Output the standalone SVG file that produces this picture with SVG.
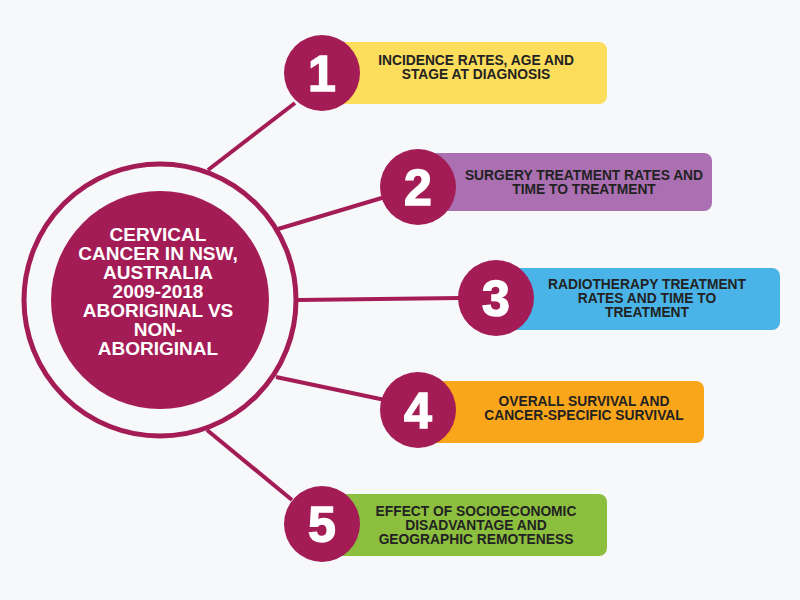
<svg xmlns="http://www.w3.org/2000/svg" width="800" height="600" viewBox="0 0 800 600">
<style>
.n{fill:#A41C56}
.num{font-family:"Liberation Sans",Arial,sans-serif;font-weight:bold;font-size:50px;fill:#fff;text-anchor:middle;stroke:#fff;stroke-width:1.5}
.lab{font-family:"Liberation Sans",Arial,sans-serif;font-weight:bold;font-size:13.8px;fill:#222;text-anchor:middle}
.c{stroke:#A41C56;stroke-width:4;fill:none}
</style>
<rect width="800" height="600" fill="#F7F8FA"/>
<g id="connectors">
<line class="c" x1="208" y1="170" x2="295" y2="103"/>
<line class="c" x1="278" y1="229" x2="385" y2="197"/>
<line class="c" x1="298" y1="300" x2="460" y2="298"/>
<line class="c" x1="276" y1="377" x2="385" y2="400"/>
<line class="c" x1="207" y1="430" x2="292" y2="500"/>
</g>
<g id="center">
<circle cx="160" cy="300" r="136" fill="none" stroke="#A41C56" stroke-width="5"/>
<circle class="n" cx="160" cy="300" r="109"/>
<text font-family="Liberation Sans,Arial,sans-serif" font-weight="bold" font-size="19" fill="#fff" text-anchor="middle">
<tspan x="158" y="241">CERVICAL</tspan><tspan x="158" y="260">CANCER IN NSW,</tspan><tspan x="158" y="279">AUSTRALIA</tspan><tspan x="158" y="298">2009-2018</tspan><tspan x="158" y="317">ABORIGINAL VS</tspan><tspan x="158" y="336">NON-</tspan><tspan x="158" y="355">ABORIGINAL</tspan></text>
</g>
<g id="node1">
<rect x="330" y="42" width="277" height="62" rx="8" fill="#FCDD5C"/>
<circle class="n" cx="322" cy="73" r="38"/>
<text class="num" x="322" y="91">1</text>
<text class="lab"><tspan x="476" y="65">INCIDENCE RATES, AGE AND</tspan><tspan x="476" y="79">STAGE AT DIAGNOSIS</tspan></text>
</g>
<g id="node2">
<rect x="420" y="153" width="292" height="58" rx="8" fill="#AA70B2"/>
<circle class="n" cx="418" cy="187" r="38"/>
<text class="num" x="418" y="205">2</text>
<text class="lab"><tspan x="584" y="180">SURGERY TREATMENT RATES AND</tspan><tspan x="584" y="194">TIME TO TREATMENT</tspan></text>
</g>
<g id="node3">
<rect x="495" y="268" width="285" height="62" rx="8" fill="#4AB4E8"/>
<circle class="n" cx="496" cy="298" r="38"/>
<text class="num" x="496" y="316">3</text>
<text class="lab"><tspan x="647" y="289">RADIOTHERAPY TREATMENT</tspan><tspan x="647" y="303">RATES AND TIME TO</tspan><tspan x="647" y="317">TREATMENT</tspan></text>
</g>
<g id="node4">
<rect x="420" y="381" width="284" height="62" rx="8" fill="#FAA61A"/>
<circle class="n" cx="418" cy="410" r="38"/>
<text class="num" x="418" y="428">4</text>
<text class="lab"><tspan x="584" y="406">OVERALL SURVIVAL AND</tspan><tspan x="584" y="420">CANCER-SPECIFIC SURVIVAL</tspan></text>
</g>
<g id="node5">
<rect x="330" y="494" width="277" height="62" rx="8" fill="#8DBF3F"/>
<circle class="n" cx="322" cy="524" r="38"/>
<text class="num" x="322" y="542">5</text>
<text class="lab"><tspan x="476" y="516">EFFECT OF SOCIOECONOMIC</tspan><tspan x="476" y="530">DISADVANTAGE AND</tspan><tspan x="476" y="544">GEOGRAPHIC REMOTENESS</tspan></text>
</g>
</svg>
